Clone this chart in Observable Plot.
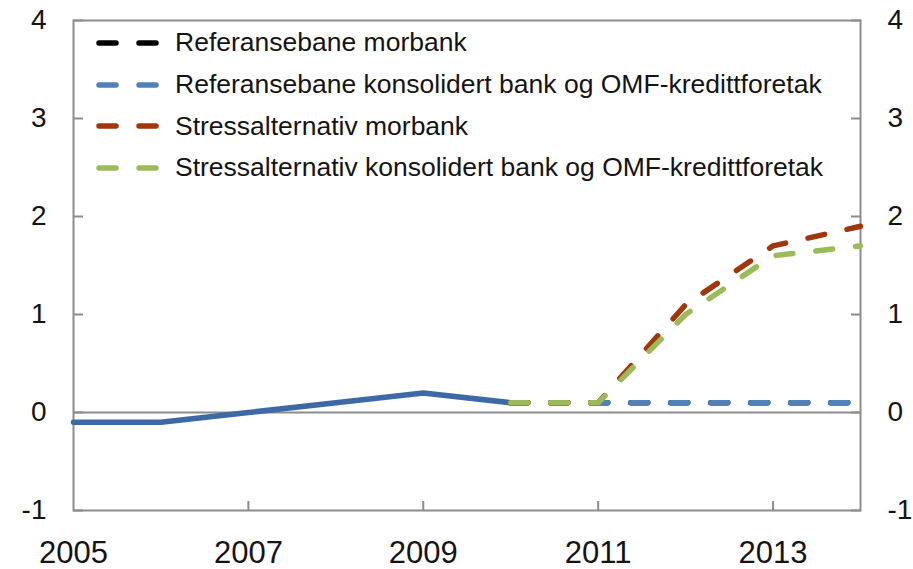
<!DOCTYPE html>
<html><head><meta charset="utf-8">
<script src="https://cdn.jsdelivr.net/npm/d3@7"></script>
<script src="https://cdn.jsdelivr.net/npm/@observablehq/plot@0.6"></script>
<style>
body{margin:0;background:#fff;font-family:"Liberation Sans",Arial,sans-serif;}
#wrap{position:relative;width:913px;height:569px;}
#wrap svg.plot{display:block;}
#legend{position:absolute;left:96px;top:22px;}
.row{display:flex;align-items:center;height:41.7px;font-size:26.5px;color:#141414;white-space:nowrap;}
.row svg{margin-right:15px;display:block;}
</style></head><body><div id="wrap"><div id="legend"></div></div>
<script>
// Historical (solid) line 2005-2010
const historikkAar = [2005, 2006, 2007, 2008, 2009, 2010];
const historikk = [-0.1, -0.1, 0.0, 0.1, 0.2, 0.1];
// Projection years
const prognoseAar = [2010, 2011, 2012, 2013, 2014];
const refMorbank = [0.1, 0.1, 0.1, 0.1, 0.1];
const refKonsolidert = [0.1, 0.1, 0.1, 0.1, 0.1];
const stressMorbank = [0.1, 0.1, 1.1, 1.7, 1.9];
const stressKonsolidert = [0.1, 0.1, 1.0, 1.6, 1.7];
const seriesNames = [
  "Referansebane morbank",
  "Referansebane konsolidert bank og OMF-kredittforetak",
  "Stressalternativ morbank",
  "Stressalternativ konsolidert bank og OMF-kredittforetak"
];
const seriesColors = ["#000000", "#4F81BD", "#A0360A", "#9BBB59"];
const historikkColor = "#3D6AA6";
const yTicks = [-1, 0, 1, 2, 3, 4];
const xTickMarks = [2007, 2009, 2011, 2013];
const xTickLabels = [2005, 2007, 2009, 2011, 2013];

const seriesValues = [refMorbank, refKonsolidert, stressMorbank, stressKonsolidert];
const toRows = (xs, ys) => xs.map((x, i) => ({x, y: ys[i]}));
const axisGray = "#8c8c8c";
const dash = "17,23";
const lw = 5.5;

const lineMarks = seriesValues.map((vals, i) =>
  Plot.line(toRows(prognoseAar, vals), {
    x: "x", y: "y", stroke: seriesColors[i], strokeWidth: lw,
    strokeDasharray: dash, strokeLinecap: "round", strokeLinejoin: "round"
  })
);

const chart = Plot.plot({
  width: 913, height: 569,
  marginLeft: 73, marginRight: 53, marginTop: 20, marginBottom: 59,
  x: {domain: [2005, 2014]},
  y: {domain: [-1, 4]},
  style: {fontFamily: '"Liberation Sans", Arial, sans-serif', color: "#141414", background: "white"},
  marks: [
    Plot.ruleY([0], {stroke: axisGray, strokeWidth: 2}),
    Plot.axisY({anchor: "left", ticks: yTicks, tickSize: -10, tickFormat: () => "", stroke: axisGray, strokeWidth: 2, label: null}),
    Plot.axisY({anchor: "right", ticks: yTicks, tickSize: -10, tickFormat: () => "", stroke: axisGray, strokeWidth: 2, label: null}),
    Plot.axisX({ticks: xTickMarks, tickSize: -9, tickFormat: () => "", stroke: axisGray, strokeWidth: 2, label: null}),
    Plot.axisY({anchor: "left", ticks: yTicks, tickSize: 0, tickPadding: 27, tickFormat: d => String(d), fontSize: 28, label: null}),
    Plot.axisY({anchor: "right", ticks: yTicks, tickSize: 0, tickPadding: 27, tickFormat: d => String(d), fontSize: 28, label: null}),
    Plot.axisX({ticks: xTickLabels, tickSize: 0, tickPadding: 30, tickFormat: d => String(d), fontSize: 31, label: null}),
    Plot.frame({stroke: axisGray, strokeWidth: 2}),
    Plot.line(toRows(historikkAar, historikk), {x: "x", y: "y", stroke: historikkColor, strokeWidth: lw, strokeLinejoin: "round"}),
    ...lineMarks
  ]
});
document.getElementById("wrap").prepend(chart);

const legend = document.getElementById("legend");
seriesNames.forEach((name, i) => {
  const row = document.createElement("div");
  row.className = "row";
  row.innerHTML = `<svg width="64" height="10"><line x1="3" y1="5" x2="62" y2="5" stroke="${seriesColors[i]}" stroke-width="${lw}" stroke-linecap="round" stroke-dasharray="${dash}"></line></svg><span>${name}</span>`;
  legend.appendChild(row);
});
</script></body></html>
